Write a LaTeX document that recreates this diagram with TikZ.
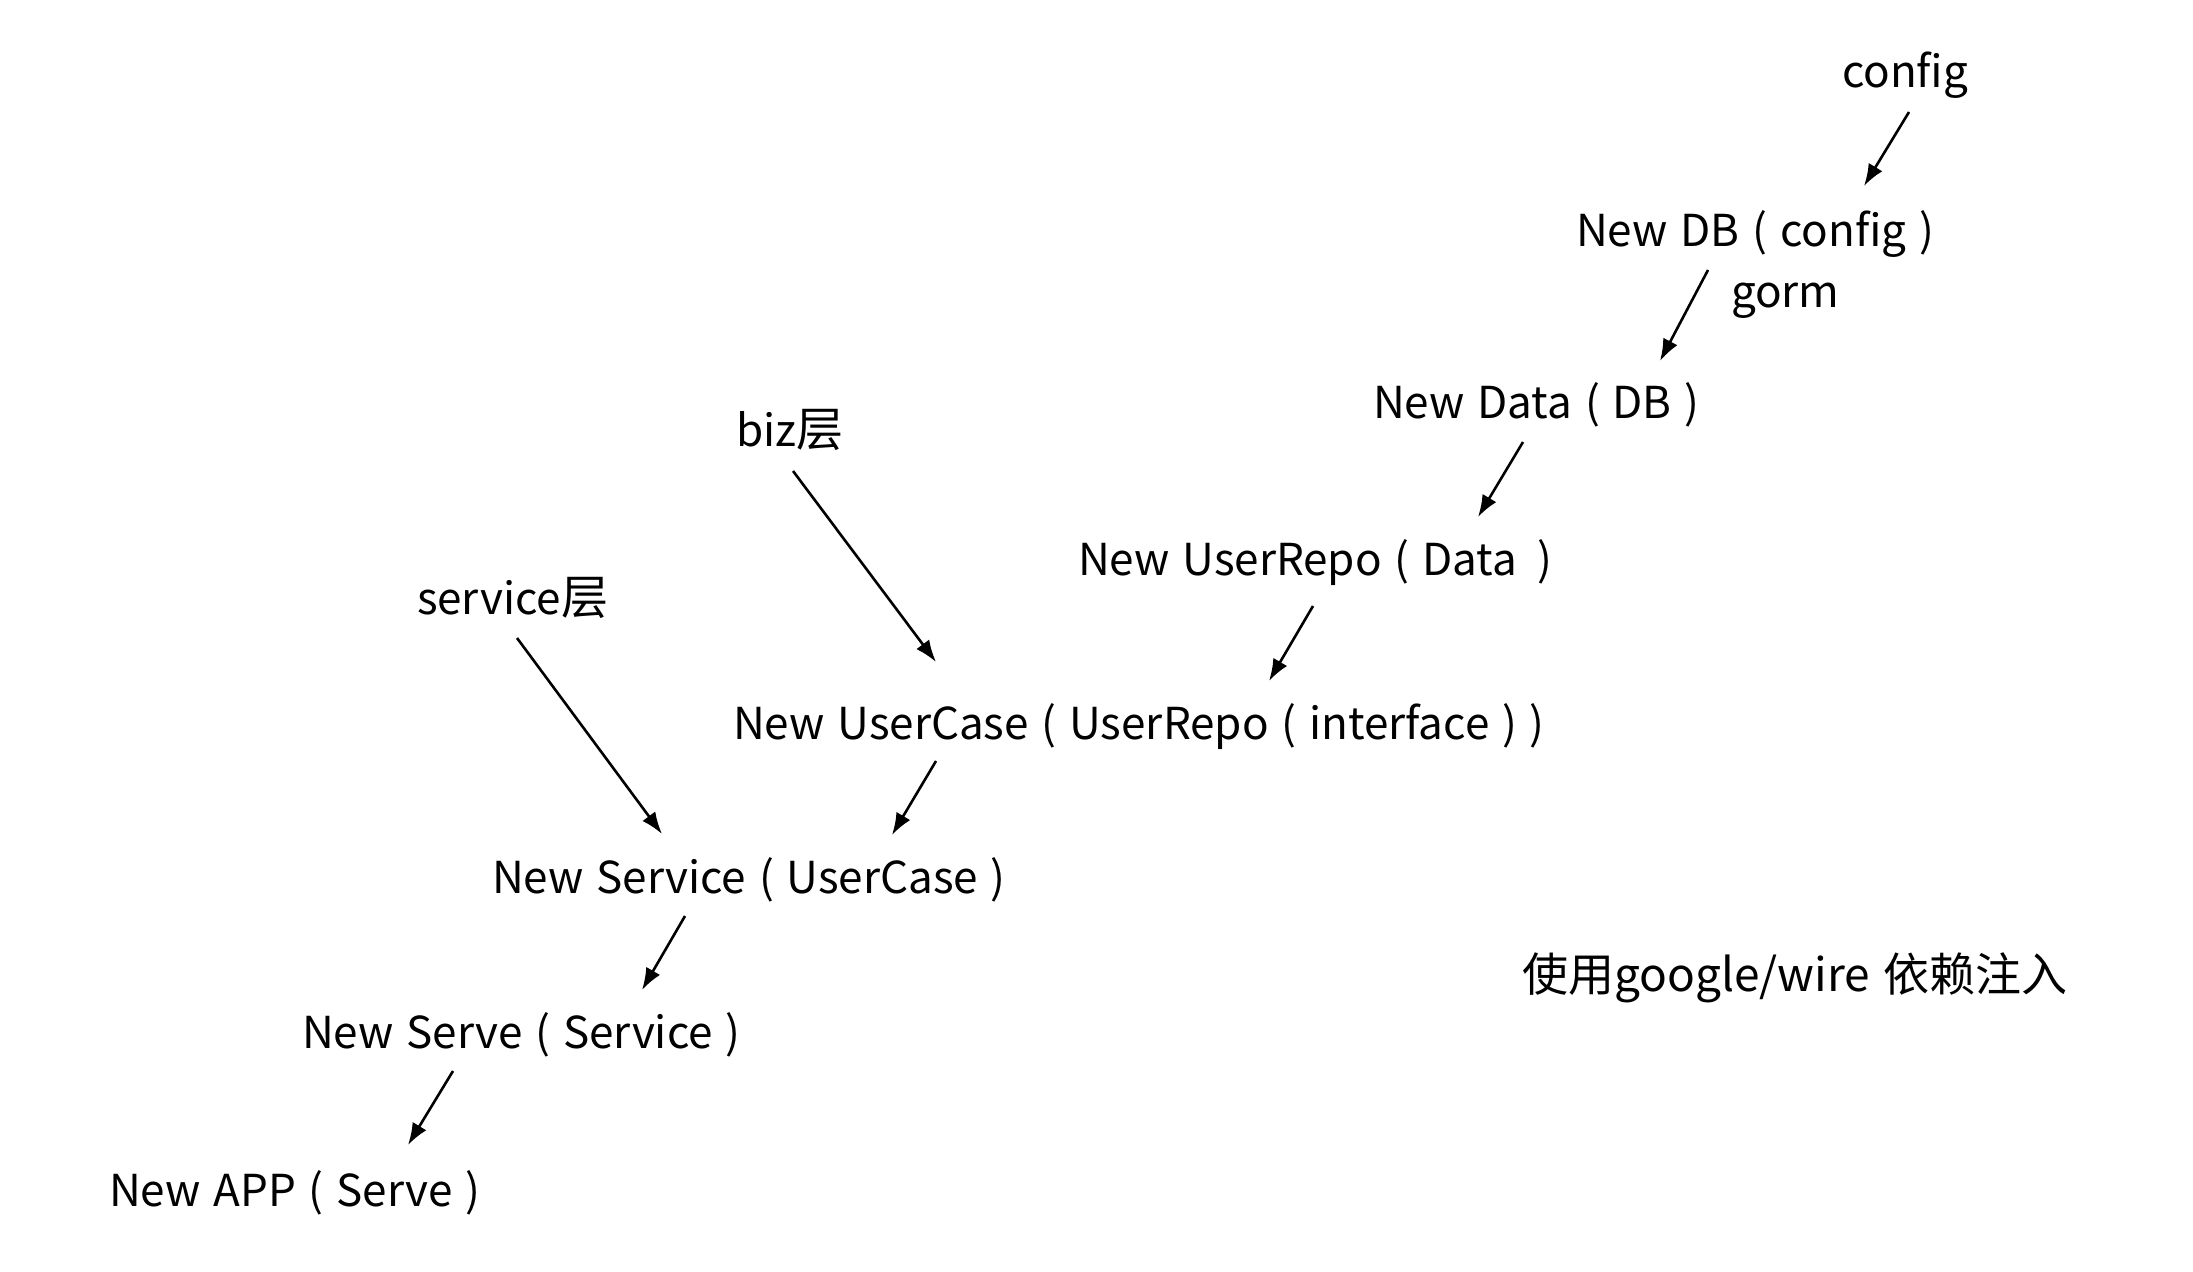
\documentclass[tikz,border=0pt]{standalone}
\usepackage{fontspec}
\setmainfont{Noto Sans CJK SC}[WordSpace=1.3]
\usetikzlibrary{arrows.meta}
\newcommand\bigcjk[1]{{\fontsize{23.5pt}{26pt}\selectfont #1}}
\begin{document}
\begin{tikzpicture}[x=0.5pt,y=-0.5pt,
  lbl/.style={anchor=base west,inner sep=0pt,outer sep=0pt,font=\fontsize{22pt}{24pt}\selectfont},
  dep/.style={-{Latex[length=11pt,width=8pt]},line width=1.3pt}]
\useasboundingbox (0,0) rectangle (2193,1272);
\node[lbl] (config) at (1842,88) {config};
\node[lbl] (db) at (1576,247) {New DB ( config )};
\node[lbl] (gorm) at (1731,308) {gorm};
\node[lbl] (data) at (1373,419) {New Data ( DB )};
\node[lbl] (repo) at (1078,575) {New UserRepo ( Data \,)};
\node[lbl] (biz) at (736,447) {biz\bigcjk{层}};
\node[lbl] (svc) at (417,614) {service\bigcjk{层}};
\node[lbl] (ucase) at (733,739) {New UserCase ( UserRepo ( interface ) )};
\node[lbl] (service) at (492,893) {New Service ( UserCase )};
\node[lbl] (serve) at (302,1048) {New Serve ( Service )};
\node[lbl] (app) at (109,1206) {New APP ( Serve )};
\node[lbl,font=\fontsize{23pt}{26pt}\selectfont] (wire) at (1522,991) {使用google/wire 依赖注入};
\coordinate (c1s) at (1909,112); \coordinate (c1e) at (1864,186);
\coordinate (c2s) at (1708,270); \coordinate (c2e) at (1660,361);
\coordinate (c3s) at (1523,442); \coordinate (c3e) at (1478,517);
\coordinate (c4s) at (1313,606); \coordinate (c4e) at (1269,681);
\coordinate (c5s) at (793,471);  \coordinate (c5e) at (936,662);
\coordinate (c6s) at (517,638);  \coordinate (c6e) at (662,834);
\coordinate (c7s) at (936,761);  \coordinate (c7e) at (892,835);
\coordinate (c8s) at (685,916);  \coordinate (c8e) at (642,990);
\coordinate (c9s) at (453,1071); \coordinate (c9e) at (408,1145);
\draw[dep] (c1s) -- (c1e);
\draw[dep] (c2s) -- (c2e);
\draw[dep] (c3s) -- (c3e);
\draw[dep] (c4s) -- (c4e);
\draw[dep] (c5s) -- (c5e);
\draw[dep] (c6s) -- (c6e);
\draw[dep] (c7s) -- (c7e);
\draw[dep] (c8s) -- (c8e);
\draw[dep] (c9s) -- (c9e);
\end{tikzpicture}
\end{document}
